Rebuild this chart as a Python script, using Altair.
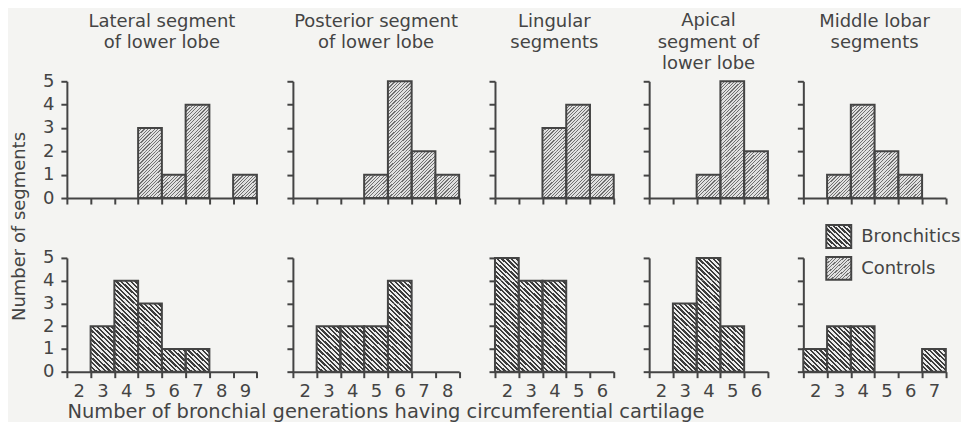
import altair as alt
import pandas as pd

FONT = "DejaVu Sans"
INK = "#444444"
BG = "#f4f4f2"

panel_titles = [
    ["Lateral segment", "of lower lobe"],
    ["Posterior segment", "of lower lobe"],
    ["Lingular", "segments"],
    ["Apical", "segment of", "lower lobe"],
    ["Middle lobar", "segments"],
]
panel_bins = [
    [2, 3, 4, 5, 6, 7, 8, 9],
    [2, 3, 4, 5, 6, 7, 8],
    [2, 3, 4, 5, 6],
    [2, 3, 4, 5, 6],
    [2, 3, 4, 5, 6, 7],
]
controls = [
    [0, 0, 0, 3, 1, 4, 0, 1],
    [0, 0, 0, 1, 5, 2, 1],
    [0, 0, 3, 4, 1],
    [0, 0, 1, 5, 2],
    [0, 1, 4, 2, 1, 0],
]
bronchitics = [
    [0, 2, 4, 3, 1, 1, 0, 0],
    [0, 2, 2, 2, 4, 0, 0],
    [5, 4, 4, 0, 0],
    [0, 3, 5, 2, 0],
    [1, 2, 2, 0, 0, 1],
]
legend_labels = ["Bronchitics", "Controls"]
y_ticks = [0, 1, 2, 3, 4, 5]
y_title = "Number of segments"
x_title = "Number of bronchial generations having circumferential cartilage"

BIN_W = 23.8
TOP_H = 117
BOT_H = 114
TITLE_OFFSETS = [6, 14, 14, -7, 14]


def hatch(n, duty, dark, light, direction):
    stops = []
    for k in range(n):
        a = k / n
        b = (k + duty) / n
        c = (k + 1) / n
        stops += [
            alt.GradientStop(offset=a, color=dark),
            alt.GradientStop(offset=b, color=dark),
            alt.GradientStop(offset=b, color=light),
            alt.GradientStop(offset=c, color=light),
        ]
    if direction == "/":
        x1, y1, x2, y2 = 0, 0, 1, 1
    else:
        x1, y1, x2, y2 = 0, 1, 1, 0
    return alt.LinearGradient(gradient="linear", stops=stops, x1=x1, y1=y1, x2=x2, y2=y2)


HATCH_C = hatch(14, 0.35, "#707070", "#e0e0e0", "/")
HATCH_B = hatch(10, 0.5, "#3c3c3c", "#ececec", "\\")


def panel(idx, row):
    bins = [str(b) for b in panel_bins[idx]]
    counts = (controls if row == 0 else bronchitics)[idx]
    grad = HATCH_C if row == 0 else HATCH_B
    cells = pd.DataFrame(
        [{"bin": b, "lo": i, "hi": i + 1} for b, c in zip(bins, counts) for i in range(c)]
    )
    bars = pd.DataFrame([{"bin": b, "count": c} for b, c in zip(bins, counts) if c > 0])

    xscale = alt.Scale(domain=bins, paddingInner=0, paddingOuter=0)
    yscale = alt.Scale(domain=[0, 5], nice=False)

    xaxis_kw = dict(
        labels=(row == 1), labelAngle=0, tickBand="extent", tickSize=6, tickWidth=2,
        tickColor=INK, domainColor=INK, domainWidth=2, labelFont=FONT, labelFontSize=18,
        labelColor=INK, labelPadding=5, grid=False, labelFlush=False,
    )
    yaxis_kw = dict(
        values=y_ticks, labels=(idx == 0), tickSize=6, tickWidth=2, tickColor=INK,
        domainColor=INK, domainWidth=2, labelFont=FONT, labelFontSize=18, labelColor=INK,
        labelPadding=7, grid=False, labelFlush=False,
    )
    if row == 1 and idx == 0:
        xaxis = alt.Axis(title=x_title, titleX=0, titleY=46, titleAlign="left",
                         titleAnchor="start", titleBaseline="alphabetic", titleFont=FONT,
                         titleFontSize=19.5, titleFontWeight="normal", titleColor=INK, **xaxis_kw)
        yaxis = alt.Axis(title=y_title, titleX=-47, titleY=-32, titleAngle=270,
                         titleAlign="center", titleBaseline="middle", titleFont=FONT,
                         titleFontSize=18, titleFontWeight="normal", titleColor=INK, **yaxis_kw)
    else:
        xaxis = alt.Axis(title=None, **xaxis_kw)
        yaxis = alt.Axis(title=None, **yaxis_kw)

    fill_layer = alt.Chart(cells).mark_rect(fill=grad, strokeWidth=0).encode(
        x=alt.X("bin:O", scale=xscale, axis=xaxis, sort=bins),
        y=alt.Y("lo:Q", scale=yscale, axis=yaxis),
        y2="hi:Q",
    )
    outline = alt.Chart(bars).mark_rect(fillOpacity=0, stroke=INK, strokeWidth=2).encode(
        x=alt.X("bin:O", scale=xscale, axis=xaxis, sort=bins),
        y=alt.Y("count:Q", scale=yscale, axis=yaxis),
        y2=alt.datum(0),
    )
    layers = [fill_layer, outline]

    if row == 1 and idx == 4:
        leg = pd.DataFrame({"label": legend_labels})
        for k, (lab, g) in enumerate(zip(legend_labels, [HATCH_B, HATCH_C])):
            top = -33 + 32 * k
            layers.append(
                alt.Chart(leg).transform_filter(alt.datum.label == lab)
                .mark_rect(fill=g, stroke=INK, strokeWidth=2)
                .encode(x=alt.value(23), x2=alt.value(48), y=alt.value(top), y2=alt.value(top + 23))
            )
            layers.append(
                alt.Chart(leg).transform_filter(alt.datum.label == lab)
                .mark_text(align="left", baseline="middle", font=FONT, fontSize=18, color=INK)
                .encode(x=alt.value(58), y=alt.value(top + 12), text="label:N")
            )

    props = dict(width=BIN_W * len(bins), height=TOP_H if row == 0 else BOT_H)
    if row == 0:
        props["title"] = alt.TitleParams(
            text=panel_titles[idx], font=FONT, fontSize=18, fontWeight="normal", color=INK,
            anchor="middle", frame="group", lineHeight=21.5, baseline="alphabetic",
            offset=TITLE_OFFSETS[idx],
        )
    return alt.layer(*layers).properties(**props)


panels = [panel(i, 0) for i in range(5)] + [panel(i, 1) for i in range(5)]

chart = (
    alt.concat(*panels, columns=5, spacing={"row": 60, "column": 35.5},
               bounds="flush", align="each")
    .properties(padding={"left": 2, "top": 3, "right": 0, "bottom": 0}, background=BG)
    .configure_view(stroke="transparent")
)

chart.save("out.html", embed_options={"renderer": "svg", "actions": False})
